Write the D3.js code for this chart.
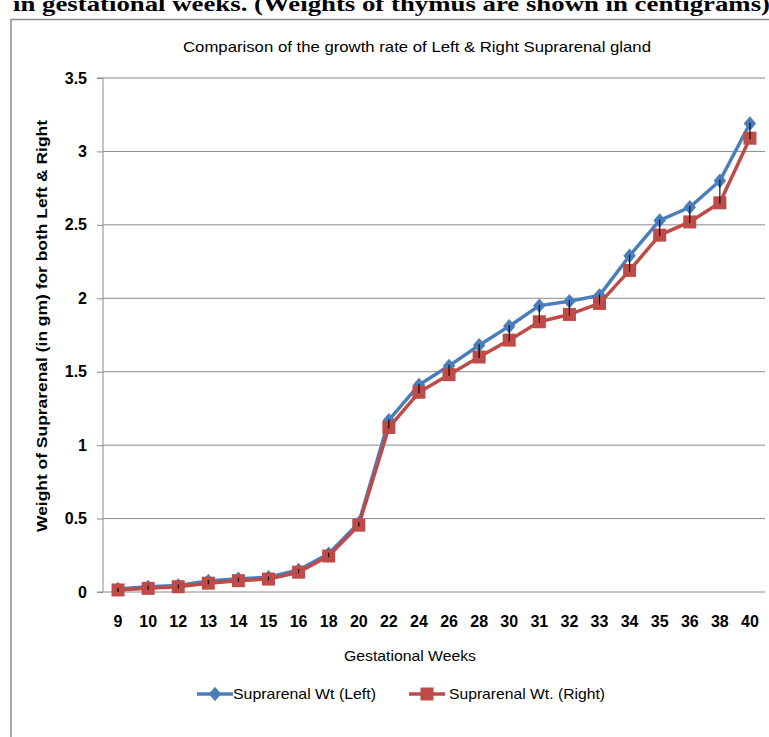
<!DOCTYPE html>
<html><head><meta charset="utf-8">
<script src="https://cdn.jsdelivr.net/npm/d3@7"></script>
<style>body{margin:0;background:#fff;overflow:hidden}</style>
</head><body>
<svg id="c" width="769" height="737"></svg>
<script>
const weeks = ["9","10","12","13","14","15","16","18","20","22","24","26","28","30","31","32","33","34","35","36","38","40"];
const leftWt = [0.02,0.035,0.045,0.075,0.09,0.10,0.15,0.26,0.47,1.17,1.41,1.54,1.68,1.81,1.95,1.98,2.02,2.29,2.53,2.62,2.80,3.19];
const rightWt = [0.014,0.025,0.036,0.06,0.077,0.088,0.135,0.245,0.455,1.12,1.36,1.48,1.60,1.715,1.84,1.89,1.965,2.19,2.43,2.52,2.65,3.09];
const yTicks = [0,0.5,1,1.5,2,2.5,3,3.5];
const seriesNames = ["Suprarenal Wt (Left)","Suprarenal Wt. (Right)"];
const colors = ["#4A7EBB","#BE4B48"];

const svg = d3.select("#c");
const font = "'Liberation Sans', Arial, sans-serif";

// header text (clipped at top, as in the source page)
svg.append("text").attr("x",13).attr("y",11)
  .attr("font-family","'Liberation Serif', 'Times New Roman', serif")
  .attr("font-weight","bold").attr("font-size",22)
  .attr("textLength",757).attr("lengthAdjust","spacingAndGlyphs")
  .text("in gestational weeks. (Weights of thymus are shown in centigrams)");

// chart frame
svg.append("rect").attr("x",11).attr("y",19.5).attr("width",800).attr("height",800)
  .attr("fill","none").attr("stroke","#8c8c8c").attr("stroke-width",1.5);

const L = 103, R = 765, T = 78, B = 592;
const x = d3.scaleBand().domain(weeks).range([L,R]);
const y = d3.scaleLinear().domain([0,3.5]).range([B,T]);

// gridlines
svg.append("g").selectAll("line").data(yTicks.filter(d=>d>0)).join("line")
  .attr("x1",L).attr("x2",R).attr("y1",d=>y(d)).attr("y2",d=>y(d))
  .attr("stroke","#8a8a8a").attr("stroke-width",1);

// y axis
const ya = svg.append("g").attr("transform",`translate(${L},0)`)
  .call(d3.axisLeft(y).tickValues(yTicks).tickSize(6).tickPadding(10).tickFormat(d=>d3.format("")(d)));
ya.select(".domain").attr("stroke","#8a8a8a").attr("d",`M-6,${T}H0V${B}`);
ya.selectAll(".tick line").attr("stroke","#8a8a8a");
ya.selectAll(".tick text").attr("font-family",font).attr("font-size",16).attr("font-weight","bold").attr("fill","#000");

// x axis
const xa = svg.append("g").attr("transform",`translate(0,${B})`)
  .call(d3.axisBottom(x).tickSize(0).tickPadding(24));
xa.select(".domain").attr("stroke","#8a8a8a").attr("d",`M${L-6},0H${R}`);
xa.selectAll(".tick text").attr("font-family",font).attr("font-size",16).attr("font-weight","bold").attr("fill","#000");

const cx = d => x(d) + x.bandwidth()/2;
const line = d3.line().x((d,i)=>cx(weeks[i])).y(d=>y(d));

// blue series
svg.append("path").datum(leftWt).attr("d",line).attr("fill","none")
  .attr("stroke",colors[0]).attr("stroke-width",3.5).attr("stroke-linejoin","round");
const diamond = d3.symbol().type(d3.symbolDiamond2).size(100);
svg.append("g").selectAll("path").data(leftWt).join("path")
  .attr("d",diamond).attr("transform",(d,i)=>`translate(${cx(weeks[i])},${y(d)}) scale(1,1.15)`)
  .attr("fill",colors[0]);

// red series
svg.append("path").datum(rightWt).attr("d",line).attr("fill","none")
  .attr("stroke",colors[1]).attr("stroke-width",3.5).attr("stroke-linejoin","round");
svg.append("g").selectAll("rect").data(rightWt).join("rect")
  .attr("x",(d,i)=>cx(weeks[i])-6.5).attr("y",d=>y(d)-6.5)
  .attr("width",13).attr("height",13).attr("fill",colors[1]);

// black connector / error lines
svg.append("g").selectAll("line").data(leftWt).join("line")
  .attr("x1",(d,i)=>cx(weeks[i])).attr("x2",(d,i)=>cx(weeks[i]))
  .attr("y1",d=>y(d)-1).attr("y2",(d,i)=>Math.max(y(rightWt[i])+1, y(d)+3))
  .attr("stroke","#000").attr("stroke-width",1.1);

// titles
svg.append("text").attr("x",417).attr("y",52).attr("text-anchor","middle")
  .attr("font-family",font).attr("font-size",14.5)
  .attr("textLength",468).attr("lengthAdjust","spacingAndGlyphs")
  .text("Comparison of the growth rate of Left & Right  Suprarenal gland");

svg.append("text").attr("transform","translate(47,326) rotate(-90)").attr("text-anchor","middle")
  .attr("font-family",font).attr("font-size",15).attr("font-weight","bold")
  .attr("textLength",412).attr("lengthAdjust","spacingAndGlyphs")
  .text("Weight of Suprarenal (in gm) for both Left & Right");

svg.append("text").attr("x",410).attr("y",661).attr("text-anchor","middle")
  .attr("font-family",font).attr("font-size",14.5)
  .attr("textLength",132).attr("lengthAdjust","spacingAndGlyphs")
  .text("Gestational Weeks");

// legend
const leg = [{x:197, tx:233, w:143},{x:409, tx:449, w:156}];
leg.forEach((l,i)=>{
  const g = svg.append("g");
  g.append("line").attr("x1",l.x).attr("x2",l.x+36).attr("y1",694).attr("y2",694)
    .attr("stroke",colors[i]).attr("stroke-width",3.5);
  if(i===0){
    g.append("path").attr("d",diamond).attr("transform",`translate(${l.x+18},694) scale(1,1.15)`).attr("fill",colors[0]);
  } else {
    g.append("rect").attr("x",l.x+18-6.5).attr("y",694-6.5).attr("width",13).attr("height",13).attr("fill",colors[1]);
  }
  g.append("text").attr("x",l.tx).attr("y",699).attr("font-family",font).attr("font-size",14.5)
    .attr("textLength",l.w).attr("lengthAdjust","spacingAndGlyphs").text(seriesNames[i]);
});
</script>
</body></html>
